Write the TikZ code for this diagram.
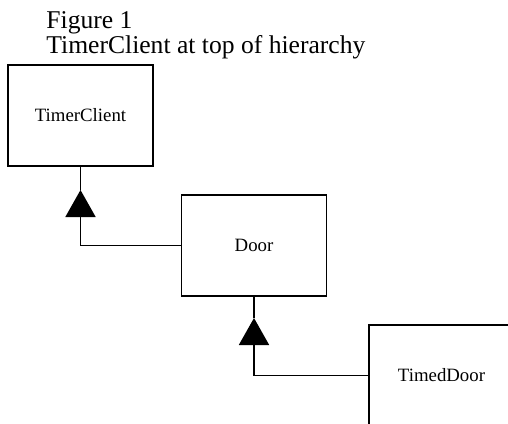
\documentclass[tikz,border=0pt]{standalone}
\usepackage{fontspec}
\setmainfont{Liberation Serif}
\usepackage{tikz}
\usetikzlibrary{arrows.meta,positioning}
\tikzstyle{cls}=[rectangle, draw=black, line width=0.9pt, minimum width=72.5pt, minimum height=50.5pt, inner sep=0pt, font=\fontsize{9.4}{11}\selectfont]
\tikzstyle{title}=[anchor=base west, inner sep=0pt, font=\fontsize{12.8}{15}\selectfont]
\tikzstyle{isa}=[line width=0.9pt, -{Triangle[length=13.5pt, width=15pt]}]

\begin{document}
\begin{tikzpicture}[x=0.5pt, y=-0.5pt]
		\clip (0,0) rectangle (508,423);
		\node[title] (T1) at (46,28) {Figure 1};
		\node[title] (T2) at (46,53) {TimerClient at top of hierarchy};
		\node[cls] (TC) at (80.5,115.5) {TimerClient};
		\node[cls] (D) at (254,245.5) {Door};
		\node[cls] (TD) at (441.5,375.5) {TimedDoor};
		\coordinate (P) at (80.5,190);
		\coordinate (Q) at (254,318);
		
	\draw[line width=0.9pt](TC.south)--(P);
	\draw[isa](D.west)-|(P);
	\draw[line width=0.9pt](D.south)--(Q);
	\draw[isa](TD.west)-|(Q);
	\end{tikzpicture}
\end{document}
